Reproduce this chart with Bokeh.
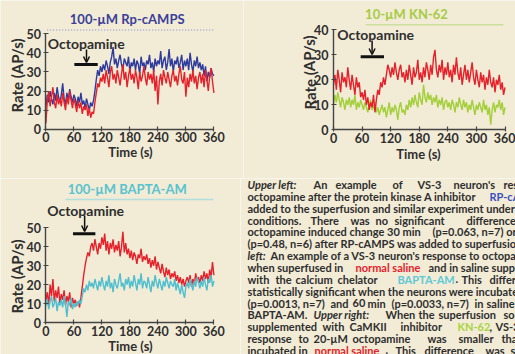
from bokeh.plotting import figure
from bokeh.layouts import column, row
from bokeh.models import Label, Arrow, OpenHead, Range1d, FixedTicker, LinearAxis
from bokeh.embed import file_html
from bokeh.resources import INLINE

# ---------------- data ----------------
time_s = list(range(0, 361, 3))
x_ticks = [0, 60, 120, 180, 240, 300, 360]
y_ticks_50 = [0, 10, 20, 30, 40, 50]
y_ticks_40 = [0, 10, 20, 30, 40]

rp_blue = [12, 18, 14, 20, 16, 13, 19, 15, 22, 17, 14,
           18, 24, 16, 13, 19, 15, 21, 17, 14, 18,
           16, 12, 17, 14, 19, 13, 15, 11, 16, 13, 10, 14, 12,
           15, 20, 26, 31, 28, 33, 30,
           34, 31, 36, 33, 29, 35, 38, 43, 34, 37,
           32, 36, 39, 34, 31, 37, 35, 33, 38, 30,
           35, 33, 37, 31, 36, 34, 29, 38, 33, 35,
           31, 36, 34, 39, 32, 35, 30, 37, 33, 36,
           34, 41, 32, 36, 38, 31, 35, 42, 33, 37,
           30, 36, 34, 38, 32, 35, 39, 31, 36, 33,
           37, 31, 40, 34, 30, 36, 33, 38, 32, 35,
           31, 34, 28, 33, 25, 30, 27, 32, 29, 28]
rp_red = [3, 15, 20, 12, 17, 22, 14, 11, 18, 13, 16,
          12, 19, 14, 10, 17, 13, 20, 15, 11, 16,
          13, 9, 15, 11, 14, 8, 12, 10, 13, 7, 11, 6, 9,
          8, 14, 19, 24, 22, 27, 25,
          29, 24, 31, 27, 22, 30, 33, 26, 29, 24,
          31, 27, 23, 29, 34, 26, 30, 22, 28, 32,
          26, 29, 24, 31, 27, 21, 30, 25, 28, 33,
          27, 23, 30, 26, 29, 24, 31, 20, 28, 13,
          25, 29, 23, 31, 27, 24, 30, 26, 22, 28,
          31, 25, 28, 23, 29, 33, 26, 24, 30, 17,
          27, 22, 29, 25, 31, 24, 28, 21, 27, 30,
          24, 29, 22, 31, 26, 20, 28, 32, 25, 19]
kn_red = [18, 22, 16, 24, 20, 15, 23, 19, 21, 17, 25,
          20, 16, 22, 18, 14, 21, 17, 19, 13, 15,
          12, 16, 10, 13, 8, 11, 9, 14, 7, 12, 16, 14, 19,
          17, 21, 18, 22, 26, 24, 21,
          25, 22, 27, 23, 20, 24, 26, 21, 23, 19,
          24, 20, 26, 22, 18, 25, 21, 23, 28, 20,
          23, 19, 25, 21, 27, 24, 20, 26, 22, 29,
          32, 24, 21, 26, 23, 28, 20, 25, 22, 27,
          21, 24, 19, 26, 22, 29, 23, 20, 25, 18,
          22, 26, 20, 24, 19, 23, 27, 21, 18, 24,
          20, 17, 23, 19, 22, 16, 21, 18, 24, 19,
          17, 21, 15, 20, 18, 22, 16, 19, 14, 17]
kn_green = [10, 14, 11, 15, 12, 9, 13, 11, 8, 12, 10,
            13, 9, 12, 10, 14, 8, 11, 9, 12, 10,
            8, 11, 9, 7, 10, 12, 8, 9, 11, 7, 9, 6, 8,
            10, 7, 9, 5, 8, 11, 6,
            9, 7, 10, 8, 4, 9, 11, 7, 8, 6,
            10, 8, 12, 9, 13, 10, 14, 11, 9, 15,
            12, 10, 18, 13, 11, 15, 12, 14, 10, 13,
            11, 14, 9, 12, 10, 13, 8, 11, 12, 9,
            11, 8, 12, 10, 7, 11, 9, 13, 10, 8,
            12, 9, 11, 7, 10, 8, 12, 9, 6, 10,
            8, 11, 9, 7, 12, 8, 10, 6, 9, 2,
            8, 11, 7, 10, 9, 12, 8, 11, 6, 9]
bapta_red = [12, 16, 9, 20, 14, 23, 11, 17, 13, 19, 10,
             15, 12, 17, 9, 14, 11, 16, 8, 13, 10,
             12, 9, 11, 8, 13, 19, 25, 30, 34, 37, 35, 40, 42,
             38, 44, 40, 36, 42, 39, 45,
             41, 47, 38, 43, 36, 42, 39, 44, 37, 41,
             38, 43, 35, 40, 48, 37, 42, 36, 39, 34,
             38, 33, 37, 35, 31, 36, 34, 39, 32, 35,
             33, 36, 31, 34, 29, 33, 30, 35, 28, 32,
             29, 26, 31, 27, 24, 29, 25, 28, 23, 26,
             24, 27, 22, 25, 21, 24, 20, 23, 19, 22,
             24, 21, 25, 19, 23, 20, 26, 22, 24, 21,
             25, 22, 27, 23, 26, 21, 28, 24, 32, 25]
bapta_cyan = [9, 12, 7, 11, 14, 8, 10, 13, 6, 11, 9,
              12, 8, 14, 10, 3, 11, 9, 13, 7, 10,
              8, 11, 9, 12, 10, 14, 18, 16, 20, 17, 22, 19, 21,
              18, 23, 20, 17, 22, 19, 24,
              20, 17, 22, 19, 25, 18, 21, 16, 23, 20,
              18, 22, 26, 19, 21, 17, 23, 20, 24, 18,
              22, 19, 25, 21, 17, 23, 20, 26, 18, 22,
              21, 18, 24, 20, 16, 22, 19, 25, 21, 18,
              23, 20, 17, 22, 19, 24, 21, 18, 22, 20,
              19, 23, 17, 21, 18, 15, 20, 16, 13, 19,
              21, 18, 23, 20, 17, 22, 19, 24, 21, 18,
              22, 19, 24, 20, 17, 23, 21, 25, 19, 22]

# octopamine application bars (s) and arrow time
octo_a = [61, 111]
octo_b = [57, 106]
octo_c = [58, 106]
arrow_t = [87, 81, 83]

titles = ["100-\u00b5M Rp-cAMPS", "10-\u00b5M KN-62", "100-\u00b5M BAPTA-AM"]

# ---------------- style ----------------
BG = "#f2ebd6"
FONT = "Lato"
INK = "#2e2e2e"
RED = "#e5222b"
BLUE = "#2f3b9c"
GREEN = "#a3cf3a"
CYAN = "#4fbfcf"


class Geo:
    """map picture pixels to a chart's data coordinates"""
    def __init__(self, ox, oy, W, H, x0px, x360px, y0px, s):
        self.ox, self.oy, self.W, self.H = ox, oy, W, H
        self.x0px, self.kx, self.y0px, self.s = x0px, 360.0 / (x360px - x0px), y0px, s

    def x(self, rx):
        return (rx - self.x0px) * self.kx

    def y(self, ry):
        return (self.y0px - ry) / self.s


def make_chart(g, ymax, yticks):
    p = figure(width=g.W, height=g.H, output_backend="svg", toolbar_location=None,
               x_range=Range1d(g.x(g.ox), g.x(g.ox + g.W)),
               y_range=Range1d(g.y(g.oy + g.H), g.y(g.oy)),
               x_axis_location=None, y_axis_location=None,
               min_border_left=0, min_border_right=0,
               min_border_top=0, min_border_bottom=0)
    p.background_fill_color = BG
    p.border_fill_color = BG
    p.outline_line_color = None
    p.grid.visible = False
    xa = LinearAxis(fixed_location=0, bounds=(0, 360), ticker=FixedTicker(ticks=x_ticks))
    ya = LinearAxis(fixed_location=0, bounds=(0, ymax), ticker=FixedTicker(ticks=yticks))
    for ax in (xa, ya):
        ax.axis_line_color = "#444444"
        ax.axis_line_width = 1.4
        ax.major_tick_line_color = "#444444"
        ax.major_tick_line_width = 1.2
        ax.major_tick_in = 3
        ax.major_tick_out = 2
        ax.minor_tick_line_color = None
        ax.major_label_text_font = FONT
        ax.major_label_text_font_style = "bold"
        ax.major_label_text_font_size = "12.5px"
        ax.major_label_text_color = INK
    xa.major_label_standoff = 1
    ya.major_label_standoff = 3
    p.add_layout(xa, "below")
    p.add_layout(ya, "left")
    return p


def label(p, x, y, text, size, color=INK, align="left", angle=0.0, style="bold"):
    p.add_layout(Label(x=x, y=y, text=text, text_font=FONT, text_font_style=style,
                       text_font_size=size, text_color=color, text_align=align,
                       text_baseline="middle", angle=angle))


def decorate(p, g, title, tcol, tx, ty, lx0, lx1, ly, lcol, ldash,
             ox, oy, bar, by, at, ay0, ay1, ylab, xlab):
    p.segment(x0=[g.x(lx0)], y0=[g.y(ly)], x1=[g.x(lx1)], y1=[g.y(ly)],
              line_color=lcol, line_width=1.4, line_dash=ldash)
    label(p, g.x(tx), g.y(ty), title, "13px", tcol, "center")
    label(p, g.x(ox), g.y(oy), "Octopamine", "14px")
    p.segment(x0=[bar[0]], y0=[g.y(by)], x1=[bar[1]], y1=[g.y(by)],
              line_color="#111111", line_width=3)
    p.add_layout(Arrow(end=OpenHead(size=6, line_width=1.5, line_color="#111111"),
                       x_start=at, y_start=g.y(ay0), x_end=at, y_end=g.y(ay1),
                       line_width=1.5, line_color="#111111"))
    label(p, g.x(ylab[0]), g.y(ylab[1]), "Rate (AP/s)", "15px", align="center", angle=1.5708)
    label(p, g.x(xlab[0]), g.y(xlab[1]), "Time (s)", "13px", align="center")


# ---- chart A (upper left) ----
ga = Geo(0, 0, 243, 178, 45.4, 213.4, 128.7, 1.908)
pa = make_chart(ga, 50, y_ticks_50)
pa.line(time_s, rp_blue, line_color=BLUE, line_width=1.4)
pa.line(time_s, rp_red, line_color=RED, line_width=1.4)
decorate(pa, ga, titles[0], "#3b3f97", 126.7, 18, 46.7, 213, 29.5, "#a3a3dc", "1 2",
         47.3, 43, octo_a, 64, arrow_t[0], 49, 62, (16.7, 75), (130, 151))

# ---- chart B (upper right) ----
gb = Geo(243, 0, 272, 178, 333, 504.5, 129.3, 2.5)
pb = make_chart(gb, 40, y_ticks_40)
pb.line(time_s, kn_green, line_color=GREEN, line_width=1.4)
pb.line(time_s, kn_red, line_color=RED, line_width=1.4)
decorate(pb, gb, titles[1], "#a6cb45", 406, 13.5, 365, 503, 24.3, "#cddf9c", "solid",
         336.7, 33.7, octo_b, 56.3, arrow_t[1], 40, 54, (309, 72), (418, 153))

# ---- chart C (lower left) ----
gc = Geo(0, 178, 240, 176, 45.4, 213.4, 322, 1.892)
pc = make_chart(gc, 50, y_ticks_50)
pc.line(time_s, bapta_red, line_color=RED, line_width=1.4)
pc.line(time_s, bapta_cyan, line_color=CYAN, line_width=1.4)
decorate(pc, gc, titles[2], "#58c3cf", 126.7, 188.3, 65, 213, 199, "#b2dfdd", "solid",
         46.7, 210, octo_c, 233.3, arrow_t[2], 215, 231, (16.7, 276), (130, 345))

# ---- caption (lower right) ----
pd = figure(width=275, height=176, output_backend="svg", toolbar_location=None,
            x_range=Range1d(0, 275), y_range=Range1d(0, 176),
            x_axis_location=None, y_axis_location=None,
            min_border_left=0, min_border_right=0, min_border_top=0, min_border_bottom=0)
pd.background_fill_color = BG
pd.border_fill_color = BG
pd.outline_line_color = None
pd.grid.visible = False

CBLUE = "#3a4fc0"
CCYAN = "#5fc9d6"
CGREEN = "#a8d440"
B, I = "bold", "bold italic"
caption = [
    [(247, "Upper left:", INK, I), (313, "An", INK, B), (335, "example", INK, B),
     (392, "of", INK, B), (417, "VS-3", INK, B), (453, "neuron's", INK, B),
     (503, "response", INK, B)],
    [(247, "octopamine after the protein kinase A inhibitor", INK, B), (489, "RP-cAMPS", CBLUE, B)],
    [(247, "added to the superfusion and similar experiment under", INK, B)],
    [(247, "conditions.", INK, B), (310, "There", INK, B), (350, "was", INK, B),
     (375, "no", INK, B), (394, "significant", INK, B), (466, "difference", INK, B)],
    [(247, "octopamine induced change 30 min", INK, B), (432, "(p=0.063, n=7) or", INK, B)],
    [(247, "(p=0.48, n=6) after RP-cAMPS was added to superfusion.", INK, B)],
    [(247, "left:", INK, I), (270, "An example of a VS-3 neuron's response to octopamine", INK, B)],
    [(247, "when superfused in", INK, B), (355, "normal saline", RED, B),
     (428, "and in saline supplemented", INK, B)],
    [(247, "with", INK, B), (275, "the", INK, B), (295, "calcium", INK, B),
     (337, "chelator", INK, B), (397, "BAPTA-AM", CCYAN, B), (455, ".", INK, B),
     (461, "This", INK, B), (489, "difference", INK, B)],
    [(247, "statistically significant when the neurons were incubated", INK, B)],
    [(247, "(p=0.0013, n=7)", INK, B), (330, "and", INK, B), (352, "60", INK, B),
     (367, "min", INK, B), (391, "(p=0.0033, n=7)", INK, B), (474, "in", INK, B),
     (486, "saline", INK, B)],
    [(247, "BAPTA-AM.", INK, B), (313, "Upper right:", INK, I), (385, "When", INK, B),
     (418, "the", INK, B), (438, "superfusion", INK, B), (503, "solution", INK, B)],
    [(247, "supplemented", INK, B), (322, "with", INK, B), (349, "CaMKII", INK, B),
     (400, "inhibitor", INK, B), (457, "KN-62", CGREEN, B), (489, ",", INK, B),
     (495, "VS-3", INK, B)],
    [(247, "response", INK, B), (298, "to", INK, B), (313, "20-\u00b5M", INK, B),
     (352, "octopamine", INK, B), (427, "was", INK, B), (458, "smaller", INK, B),
     (501, "than", INK, B)],
    [(247, "incubated in", INK, B), (314, "normal saline", RED, B), (385, ".", INK, B),
     (395, "This", INK, B), (424, "difference", INK, B), (485, "was", INK, B),
     (510, "statistically", INK, B)],
]
for i, segs in enumerate(caption):
    ry = 184 + 11.85 * i
    for rx, txt, col, sty in segs:
        label(pd, rx - 240, 354 - ry, txt, "11px", col, "left", 0.0, sty)

p = column(row(pa, pb), row(pc, pd))
open("out.html", "w").write(file_html(p, INLINE))
